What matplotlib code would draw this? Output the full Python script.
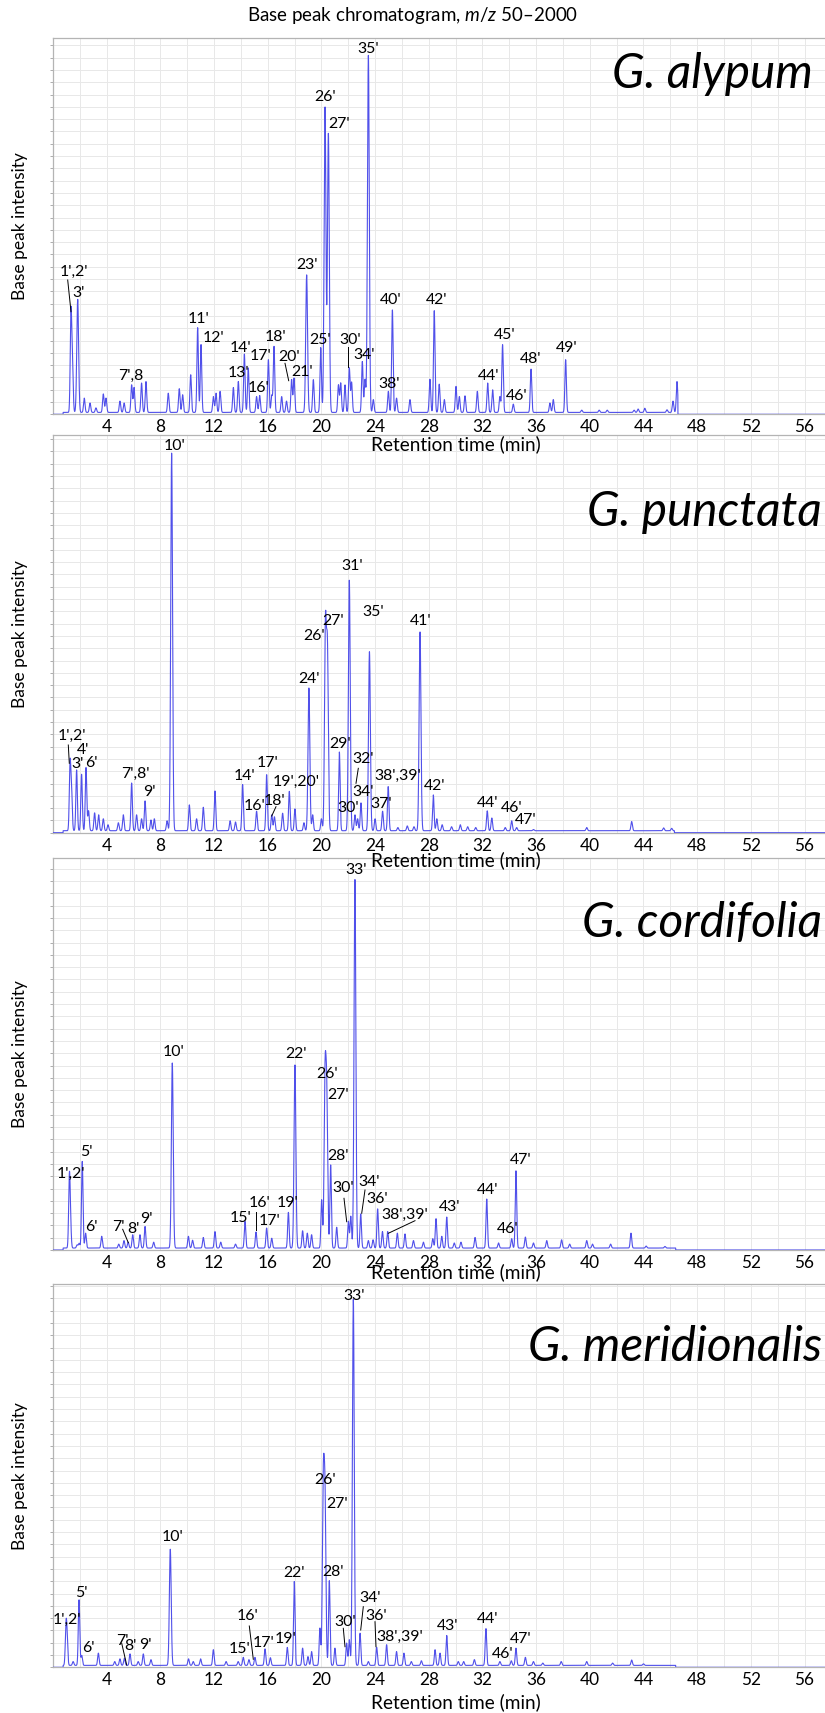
import numpy as np
import matplotlib
matplotlib.use("Agg")
import matplotlib.pyplot as plt
from matplotlib.transforms import Affine2D

plt.rcParams['font.family'] = ['Lato', 'DejaVu Sans']
plt.rcParams['mathtext.fontset'] = 'custom'
plt.rcParams['mathtext.rm'] = 'Lato'
plt.rcParams['mathtext.it'] = 'Lato:italic'

# ---------------- data: peaks (retention time [min], relative height) ----------------
alypum_rt = [1.34, 1.45, 1.84, 2.33, 2.76, 3.2, 3.75, 3.95, 4.99, 5.3, 5.86, 6.04, 6.6, 6.93,
             8.59, 9.41, 9.66, 10.26, 10.78, 11.03, 11.95, 12.15, 12.45, 13.44, 13.81, 14.26,
             14.55, 15.17, 15.4, 16.05, 16.3, 16.47, 17.04, 17.4, 17.78, 17.96, 18.9, 19.4,
             19.95, 20.27, 20.52, 21.27, 21.44, 21.76, 22.08, 22.25, 23.05, 23.25, 23.5, 23.87,
             24.99, 25.29, 25.6, 26.6, 28.09, 28.41, 28.78, 29.16, 30.03, 30.28, 30.7, 31.62,
             32.39, 32.76, 33.3, 33.5, 34.3, 35.62, 37.03, 37.28, 38.2, 39.4, 40.7, 41.3, 43.3,
             43.6, 44.1, 45.75, 46.2, 46.5]
alypum_h = [.263, .12, .30, .038, .025, .012, .049, .038, .03, .025, .073, .066, .078, .082,
            .051, .063, .047, .10, .225, .18, .042, .051, .056, .066, .082, .155,
            .118, .042, .045, .14, .045, .175, .042, .03, .087, .091, .365, .087,
            .172, .81, .74, .073, .078, .073, .118, .08, .135, .087, .948, .034,
            .056, .272, .038, .034, .088, .27, .075, .034, .069, .042, .044, .056,
            .078, .06, .042, .18, .022, .115, .025, .034, .14, .006, .006, .006, .006,
            .009, .011, .007, .03, .082]

punctata_rt = [1.27, 1.38, 1.76, 2.13, 2.46, 2.65, 3.1, 3.4, 3.75, 4.1, 4.87, 5.24, 5.86, 6.23,
               6.6, 6.86, 7.3, 7.55, 8.5, 8.84, 10.16, 10.7, 11.2, 12.07, 13.2, 13.6, 14.13,
               15.17, 15.92, 16.3, 16.5, 17.11, 17.61, 18.03, 18.7, 19.07, 19.35, 20.0, 20.3,
               20.45, 21.34, 22.08, 22.5, 22.7, 22.95, 23.58, 24.0, 24.56, 24.98, 25.7, 26.4,
               26.9, 27.35, 28.34, 28.6, 29.0, 29.7, 30.35, 30.9, 31.5, 32.36, 32.7, 33.7,
               34.18, 34.55, 35.8, 39.77, 43.12, 45.5, 46.1]
punctata_h = [.166, .10, .153, .142, .159, .05, .045, .04, .03, .015, .02, .04, .12, .04,
              .03, .075, .027, .03, .025, .95, .065, .03, .059, .10, .025, .022, .116,
              .049, .141, .04, .035, .044, .099, .055, .02, .359, .04, .03, .505,
              .44, .198, .63, .04, .03, .07, .45, .03, .049, .111, .008, .012,
              .01, .50, .09, .03, .015, .01, .015, .01, .008, .05, .032, .008,
              .025, .008, .003, .008, .023, .007, .006]

cordifolia_rt = [1.22, 1.3, 1.8, 1.95, 2.18, 2.43, 3.63, 4.9, 5.29, 5.6, 5.94, 6.48, 6.86, 7.5,
                 8.89, 10.09, 10.4, 11.2, 12.07, 12.5, 13.6, 14.31, 15.13, 15.92, 16.3, 17.54,
                 18.03, 18.6, 18.95, 19.27, 20.02, 20.27, 20.4, 20.69, 21.14, 22.01, 22.19, 22.5,
                 22.93, 23.5, 23.85, 24.19, 24.55, 24.94, 25.66, 26.23, 26.86, 27.6, 28.3, 28.54,
                 28.97, 29.34, 29.9, 30.4, 31.45, 32.32, 33.2, 34.18, 34.5, 35.2, 35.8, 36.79,
                 37.9, 38.5, 39.77, 40.2, 41.55, 43.07, 44.2, 45.6]
cordifolia_h = [.172, .06, .008, .012, .221, .038, .03, .01, .019, .015, .034, .034, .055, .015,
                .472, .03, .02, .027, .042, .015, .01, .068, .041, .051, .025, .091,
                .467, .044, .038, .034, .123, .418, .365, .212, .053, .068, .081, .94,
                .087, .019, .021, .10, .042, .042, .038, .036, .019, .015, .024, .075,
                .03, .079, .013, .015, .027, .125, .013, .024, .197, .028, .013, .019,
                .021, .01, .019, .01, .01, .038, .005, .004]

meridionalis_rt = [0.97, 1.05, 1.5, 1.94, 2.14, 3.38, 4.6, 4.99, 5.32, 5.74, 6.35, 6.73, 7.3,
                   8.74, 10.1, 10.45, 11.0, 11.95, 12.9, 13.8, 14.18, 14.6, 15.05, 15.8, 16.2,
                   17.46, 17.98, 18.6, 19.0, 19.27, 19.89, 20.14, 20.27, 20.59, 21.01, 21.88,
                   22.08, 22.38, 22.88, 23.5, 24.12, 24.86, 25.6, 26.15, 26.7, 27.45, 28.47,
                   28.84, 29.34, 30.2, 30.6, 31.4, 32.26, 33.3, 34.15, 34.5, 35.2, 35.8, 36.5,
                   37.87, 39.77, 41.7, 43.12, 44.0]
meridionalis_h = [.096, .06, .01, .171, .026, .032, .01, .017, .019, .03, .01, .03, .015,
                  .303, .017, .01, .017, .041, .01, .01, .021, .015, .021, .043, .02,
                  .047, .219, .045, .023, .036, .097, .455, .41, .221, .045, .058,
                  .067, .955, .084, .01, .047, .054, .036, .032, .01, .012, .041,
                  .032, .078, .01, .01, .015, .096, .01, .012, .045, .021, .01, .006,
                  .01, .01, .006, .014, .004]

trace_end = [46.56, 46.3, 46.4, 46.4]
species = ["G. alypum", "G. punctata", "G. cordifolia", "G. meridionalis"]
xtick_values = [4, 8, 12, 16, 20, 24, 28, 32, 36, 40, 44, 48, 52, 56]
title_text = r"Base peak chromatogram, $\mathit{m/z}$ 50–2000"
xlabel_text = "Retention time (min)"
ylabel_text = "Base peak intensity"

# peak labels (text, x px, y px) and leader lines
labels = [
    [("1',2'", 74, 272), ("3'", 78.5, 293), ("7',8", 130.7, 375.7), ("11'", 199, 319),
     ("12'", 213.3, 338.3), ("13'", 238.3, 372.7), ("14'", 240.7, 347.7), ("16'", 258.3, 387.7),
     ("17'", 261, 356), ("18'", 275.7, 336.7), ("20'", 288.7, 356.7), ("21'", 301.7, 371.7),
     ("23'", 306.7, 265), ("25'", 320, 340), ("26'", 324.6, 97), ("27'", 339, 124),
     ("30'", 350, 340), ("34'", 364, 355), ("35'", 368, 49), ("38'", 389.3, 384),
     ("40'", 390.7, 300), ("42'", 436.7, 300), ("44'", 488.3, 375.7), ("45'", 505, 335),
     ("46'", 516.7, 395.7), ("48'", 531, 359), ("49'", 566.7, 348.3)],
    [("1',2'", 71.7, 736), ("4'", 82.7, 750), ("3'", 77.3, 764.3), ("6'", 91, 762.7),
     ("7',8'", 135, 774), ("9'", 149, 791.7), ("10'", 175, 446), ("14'", 244.3, 776),
     ("16'", 254.3, 805.7), ("17'", 267.7, 763.3), ("18'", 274.3, 800.7), ("19',20'", 296, 781.7),
     ("24'", 309.3, 679.3), ("26'", 313.7, 636), ("27'", 333.4, 621), ("29'", 340, 744),
     ("31'", 352, 566), ("32'", 362.7, 759), ("34'", 363.3, 791.7), ("30'", 348.3, 808.3),
     ("35'", 372.7, 612), ("37'", 381, 804), ("38',39'", 398, 776), ("41'", 420.8, 621),
     ("42'", 435, 786), ("44'", 487.3, 802.7), ("46'", 511.7, 808.3), ("47'", 526, 820)],
    [("1',2'", 70.7, 1174.3), ("5'", 86, 1152.3), ("6'", 91.7, 1226.7), ("7'", 118.3, 1226.7),
     ("8'", 133.3, 1229.3), ("9'", 146.7, 1219.3), ("10'", 174, 1051.7), ("15'", 240.7, 1218.3),
     ("16'", 260, 1202.7), ("17'", 270, 1221), ("19'", 287.3, 1203.3), ("22'", 296, 1054),
     ("26'", 327.3, 1074), ("27'", 338.3, 1095), ("28'", 338.3, 1156), ("30'", 343.3, 1188.3),
     ("33'", 356, 870), ("34'", 369.3, 1181.7), ("36'", 376.7, 1199.3), ("38',39'", 405, 1215),
     ("43'", 450, 1206.7), ("44'", 487.3, 1190), ("46'", 507.3, 1229.3), ("47'", 520.7, 1160)],
    [("1',2'", 66.7, 1620), ("5'", 81.7, 1593.3), ("6'", 88.3, 1648.3), ("7'", 122.7, 1640.7),
     ("8'", 130, 1646), ("9'", 145, 1645), ("10'", 172.7, 1536.7), ("15'", 240, 1649.3),
     ("16'", 247.7, 1615.7), ("17'", 263.3, 1642.7), ("19'", 286, 1639.3), ("22'", 294, 1573.3),
     ("26'", 325, 1480), ("27'", 336.7, 1504.3), ("28'", 333.3, 1571.7), ("30'", 345, 1621.7),
     ("33'", 354, 1296), ("34'", 370, 1598.3), ("36'", 376, 1615.7), ("38',39'", 400, 1636.7),
     ("43'", 447.3, 1625.7), ("44'", 487.3, 1619.3), ("46'", 502.3, 1654), ("47'", 520.7, 1639.3)],
]
leaders = [
    [((67.7, 280), (71, 311.7)), ((285, 363.3), (288.7, 380.7)), ((348.3, 347.3), (348.3, 366.7))],
    [((68.3, 745), (69.3, 763.3)), ((276, 806.7), (271.7, 816)), ((358.3, 768.3), (356, 783.3))],
    [((122.7, 1229.3), (128.3, 1242.7)), ((256, 1211.7), (256, 1230)), ((344, 1198.3), (346.7, 1221.7)),
     ((365, 1190), (361.7, 1213.3)), ((388.3, 1233.3), (415, 1220.7))],
    [((121.7, 1643.3), (126.7, 1665)), ((249.3, 1626), (253.3, 1659.3)), ((343.3, 1628.3), (345, 1646.7)),
     ((363.3, 1606.7), (360.7, 1630)), ((375, 1621.7), (376, 1646.7))],
]

# ---------------- layout (pixels) ----------------
W, H = 825, 1713
LEFT, RIGHT = 53, 825
panels_px = [(37.5, 414.3), (435, 832.7), (858, 1250), (1284, 1667.3)]
species_px = [(813, 74), (822, 512), (822, 923), (822, 1347)]
xlabel_y = [444, 860, 1272, 1702]
PX_PER_MIN = 13.42

fig = plt.figure(figsize=(W / 100, H / 100), dpi=100)
pxT = Affine2D().scale(1 / W, -1 / H).translate(0, 1) + fig.transFigure
renderer = fig.canvas.get_renderer()


def fit_size(s, target_px, **kw):
    tt = fig.text(0, 0, s, fontsize=20, **kw)
    w = tt.get_window_extent(renderer).width
    tt.remove()
    return 20 * target_px / w


TITLE_FS = fit_size(title_text, 330)
SPECIES_FS = fit_size("G. alypum", 201, style='italic')
XLAB_FS = fit_size(xlabel_text, 170)
YLAB_FS = fit_size(ylabel_text, 148)
LBL_FS = fit_size("23'", 21.5)
TICK_FS = fit_size("56", 20)

t = np.linspace(0, 57.6, 12000)
blue = '#5050ea'
all_rt = [alypum_rt, punctata_rt, cordifolia_rt, meridionalis_rt]
all_h = [alypum_h, punctata_h, cordifolia_h, meridionalis_h]

for i, (top, bot) in enumerate(panels_px):
    ax = fig.add_axes([LEFT / W, 1 - bot / H, (RIGHT - LEFT) / W, (bot - top) / H])
    xmax = (RIGHT - LEFT) / PX_PER_MIN
    rt = np.array(all_rt[i]); hh = np.array(all_h[i])
    sig = np.where(hh > 0.28, 0.068, 0.055)
    y = np.zeros_like(t)
    for r, h, s in zip(rt, hh, sig):
        y += h * np.exp(-0.5 * ((t - r) / s) ** 2)
    inside = (t > 0.75) & (t < trace_end[i])
    y = np.where(inside, y + 0.005, 0.0)
    ax.plot(t, y, color=blue, lw=0.8, zorder=3)
    ax.set_xlim(0, xmax)
    ax.set_ylim(0, 1)
    ax.set_xticks(xtick_values)
    ax.set_xticks(np.arange(2, 58, 4), minor=True)
    ax.set_xticklabels([str(v) for v in xtick_values], fontsize=TICK_FS)
    step = 12.3 / (bot - top)
    ax.set_yticks(np.arange(0, 1.0, step))
    ax.set_yticklabels([])
    ax.grid(True, which='both', color='#e8e8e8', lw=0.7, zorder=0)
    ax.tick_params(axis='x', which='both', length=0, pad=3.5, colors='black')
    ax.tick_params(axis='y', length=2.5, color='#a0a0a0', width=0.6)
    for sp in ['top', 'left', 'bottom']:
        ax.spines[sp].set_color('#b4b4b4')
        ax.spines[sp].set_linewidth(0.9)
    ax.spines['right'].set_visible(False)
    sx, sy = species_px[i]
    fig.text(sx, sy, species[i], transform=pxT, ha='right', va='center', fontsize=SPECIES_FS,
             style='italic', color='black')
    fig.text(20, (top + bot) / 2, ylabel_text, transform=pxT, rotation=90,
             ha='center', va='center', fontsize=YLAB_FS)
    fig.text(456, xlabel_y[i], xlabel_text, transform=pxT, ha='center',
             va='center', fontsize=XLAB_FS)
    for s, lx, ly in labels[i]:
        fig.text(lx, ly, s, transform=pxT, ha='center', va='center', fontsize=LBL_FS, zorder=5)
    for (x0, y0), (x1, y1) in leaders[i]:
        fig.add_artist(plt.Line2D([x0, x1], [y0, y1], transform=pxT, color='black', lw=0.7))

fig.text(413, 16, title_text, transform=pxT, ha='center', va='center', fontsize=TITLE_FS)

fig.savefig("out.png", dpi=100)
